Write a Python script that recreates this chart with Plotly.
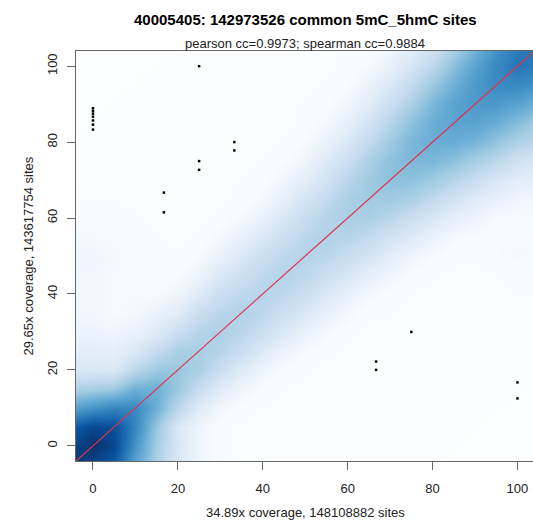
import plotly.graph_objects as go

# density grid nodes (data units) and smoothed-density colour level (0-100)
grid_x = [-5, 0, 5, 10, 15, 20, 25, 30, 35, 40, 45, 50, 55, 60, 65, 70, 75, 80, 85, 90, 95, 100, 105]
grid_y = [-5, 0, 5, 10, 15, 20, 25, 30, 35, 40, 45, 50, 55, 60, 65, 70, 75, 80, 85, 90, 95, 100, 105]
density = [
    [100, 92, 85, 60, 40, 24, 15, 10, 7, 6, 6, 6, 6, 6, 5, 5, 5, 4, 4, 4, 4, 4, 4],
    [92, 100, 92, 66, 42, 25, 15, 10, 7, 6, 6, 6, 6, 6, 6, 5, 5, 5, 4, 4, 4, 4, 4],
    [85, 92, 90, 71, 45, 24, 15, 10, 7, 6, 6, 6, 6, 6, 6, 6, 5, 5, 5, 4, 4, 4, 4],
    [60, 66, 71, 70, 55, 36, 22, 14, 10, 8, 7, 6, 6, 6, 6, 6, 6, 5, 5, 5, 4, 4, 4],
    [40, 42, 45, 55, 55, 45, 32, 22, 15, 10, 8, 7, 6, 6, 6, 6, 6, 6, 5, 5, 5, 4, 4],
    [24, 25, 24, 36, 45, 46, 41, 31, 22, 15, 11, 8, 7, 6, 6, 6, 6, 6, 6, 5, 5, 5, 4],
    [20, 20, 19, 24, 33, 41, 42, 38, 31, 23, 16, 12, 9, 7, 7, 6, 6, 6, 6, 6, 5, 5, 5],
    [16, 16, 15, 17, 23, 31, 38, 40, 37, 31, 24, 17, 13, 9, 7, 7, 6, 6, 6, 6, 6, 5, 5],
    [14, 14, 12, 13, 17, 22, 31, 37, 39, 36, 30, 24, 18, 13, 9, 8, 7, 6, 6, 6, 6, 7, 6],
    [14, 14, 12, 12, 12, 15, 23, 31, 36, 38, 36, 31, 24, 18, 13, 10, 8, 7, 7, 6, 7, 8, 8],
    [14, 14, 12, 11, 10, 11, 16, 24, 30, 36, 38, 36, 31, 25, 19, 15, 11, 8, 7, 7, 8, 10, 10],
    [15, 15, 13, 10, 9, 8, 12, 17, 24, 31, 36, 38, 37, 32, 27, 20, 15, 12, 9, 9, 10, 13, 12],
    [13, 13, 11, 9, 8, 7, 9, 13, 18, 24, 31, 37, 39, 38, 34, 28, 23, 17, 13, 11, 10, 11, 11],
    [10, 10, 9, 8, 7, 6, 7, 9, 13, 18, 25, 32, 38, 41, 41, 37, 31, 25, 19, 16, 12, 12, 12],
    [7, 8, 8, 7, 6, 6, 7, 7, 9, 13, 19, 27, 34, 41, 44, 44, 41, 34, 28, 22, 18, 15, 14],
    [6, 6, 7, 6, 6, 6, 6, 7, 8, 10, 15, 20, 28, 37, 44, 48, 48, 44, 38, 32, 25, 21, 19],
    [5, 5, 5, 6, 6, 6, 6, 6, 7, 8, 11, 15, 23, 31, 41, 48, 52, 52, 48, 42, 36, 29, 25],
    [4, 5, 5, 5, 6, 6, 6, 6, 6, 7, 8, 12, 17, 25, 34, 44, 52, 56, 56, 53, 47, 40, 35],
    [4, 4, 5, 5, 5, 6, 6, 6, 6, 7, 7, 9, 13, 19, 28, 38, 48, 56, 60, 60, 56, 50, 43],
    [4, 4, 4, 5, 5, 5, 6, 6, 6, 6, 7, 8, 10, 15, 21, 31, 41, 52, 60, 64, 64, 60, 55],
    [4, 4, 4, 4, 5, 5, 5, 6, 6, 6, 6, 7, 8, 11, 17, 24, 34, 45, 55, 64, 69, 70, 66],
    [4, 4, 4, 4, 4, 5, 5, 5, 6, 6, 6, 7, 7, 9, 12, 18, 26, 36, 49, 60, 70, 76, 74],
    [4, 4, 4, 4, 4, 4, 5, 5, 5, 6, 6, 6, 7, 8, 10, 14, 19, 29, 40, 53, 66, 74, 78],
]

# isolated outlier points
pts_x = [0, 0, 0, 0, 0, 0, 0, 25, 25, 25, 33.3, 33.3, 16.7, 16.7, 75, 66.7, 66.7, 100, 100]
pts_y = [88.9, 88.2, 87.5, 86.7, 85.7, 84.6, 83.3, 100, 75, 72.7, 80, 77.8, 66.7, 61.5, 30, 22.2, 20, 16.7, 12.5]

# identity line
diag = [-10, 110]

tick_vals = [0, 20, 40, 60, 80, 100]
tick_text = ["0", "20", "40", "60", "80", "100"]

title_text = "40005405: 142973526 common 5mC_5hmC sites"
sub_text = "pearson cc=0.9973; spearman cc=0.9884"
x_label = "34.89x coverage, 148108882 sites"
y_label = "29.65x coverage, 143617754 sites"

blues = [[0.0, "#FFFFFF"], [1 / 9, "#F7FBFF"], [2 / 9, "#DEEBF7"], [3 / 9, "#C6DBEF"],
         [4 / 9, "#9ECAE1"], [5 / 9, "#6BAED6"], [6 / 9, "#4292C6"], [7 / 9, "#2171B5"],
         [8 / 9, "#08519C"], [1.0, "#08306B"]]

FONT = "Arial, Liberation Sans, sans-serif"

fig = go.Figure()
fig.add_trace(go.Heatmap(x=grid_x, y=grid_y, z=density, colorscale=blues, zmin=0, zmax=100,
                         zsmooth="best", showscale=False, hoverinfo="skip"))
fig.add_trace(go.Scatter(x=diag, y=diag, mode="lines", line=dict(color="#E0334F", width=1.2),
                         hoverinfo="skip"))
fig.add_trace(go.Scatter(x=pts_x, y=pts_y, mode="markers",
                         marker=dict(color="black", size=2.5, symbol="square", line=dict(width=0))))

axis_common = dict(tickvals=tick_vals, ticktext=tick_text, ticks="outside", ticklen=8,
                   tickcolor="#666", tickwidth=1, showline=True, linecolor="#666", linewidth=1,
                   showgrid=False, zeroline=False, tickfont=dict(family=FONT, size=13, color="#222"))

fig.update_layout(
    width=533, height=521, autosize=False,
    margin=dict(l=76, r=0, t=51, b=60),
    paper_bgcolor="white", plot_bgcolor="white",
    showlegend=False,
    font=dict(family=FONT, color="#222"),
    xaxis=dict(range=[-4, 103.66], mirror=True, ticklabelstandoff=7, **axis_common),
    yaxis=dict(range=[-4, 104], mirror=False, tickangle=-90, ticklabelstandoff=5, **axis_common),
    annotations=[
        dict(text="<b>" + title_text + "</b>", xref="x", x=50, yref="paper", y=1.0768,
             xanchor="center", yanchor="middle", showarrow=False,
             font=dict(family=FONT, size=15, color="black")),
        dict(text=sub_text, xref="x", x=50, yref="paper", y=1.0183,
             xanchor="center", yanchor="middle", showarrow=False,
             font=dict(family=FONT, size=13, color="#222")),
        dict(text=x_label, xref="x", x=50, yref="paper", y=-0.125,
             xanchor="center", yanchor="middle", showarrow=False,
             font=dict(family=FONT, size=13, color="#222")),
        dict(text=y_label, xref="paper", x=-0.104, yref="y", y=50, textangle=-90,
             xanchor="center", yanchor="middle", showarrow=False,
             font=dict(family=FONT, size=13, color="#222")),
    ],
)

fig.write_html("out.html")
